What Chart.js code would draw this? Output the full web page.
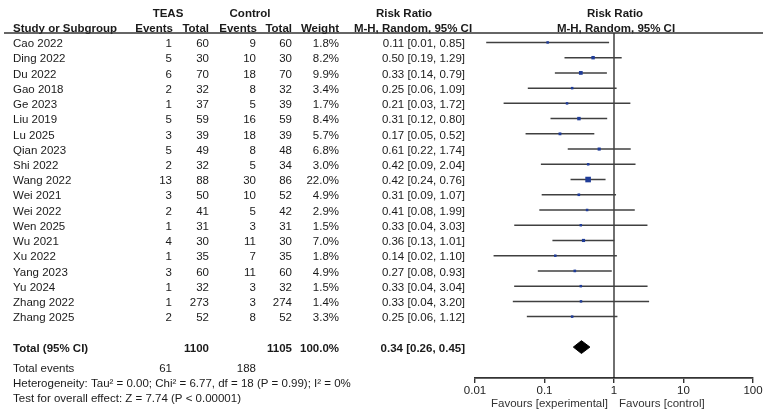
<!DOCTYPE html>
<html>
<head>
<meta charset="utf-8">
<script src="https://cdn.jsdelivr.net/npm/chart.js@4.4.1/dist/chart.umd.min.js"></script>
<style>
  html, body { margin: 0; padding: 0; background: #fff; }
  #forest { display: block; }
</style>
</head>
<body>
<canvas id="forest" width="767" height="420"></canvas>
<script>
// ---- data ----
var studies = ['Cao 2022', 'Ding 2022', 'Du 2022', 'Gao 2018', 'Ge 2023', 'Liu 2019', 'Lu 2025',
  'Qian 2023', 'Shi 2022', 'Wang 2022', 'Wei 2021', 'Wei 2022', 'Wen 2025', 'Wu 2021', 'Xu 2022',
  'Yang 2023', 'Yu 2024', 'Zhang 2022', 'Zhang 2025'];
var teasEvents = [1, 5, 6, 2, 1, 5, 3, 5, 2, 13, 3, 2, 1, 4, 1, 3, 1, 1, 2];
var teasTotal = [60, 30, 70, 32, 37, 59, 39, 49, 32, 88, 50, 41, 31, 30, 35, 60, 32, 273, 52];
var ctrlEvents = [9, 10, 18, 8, 5, 16, 18, 8, 5, 30, 10, 5, 3, 11, 7, 11, 3, 3, 8];
var ctrlTotal = [60, 30, 70, 32, 39, 59, 39, 48, 34, 86, 52, 42, 31, 30, 35, 60, 32, 274, 52];
var weights = [1.8, 8.2, 9.9, 3.4, 1.7, 8.4, 5.7, 6.8, 3.0, 22.0, 4.9, 2.9, 1.5, 7.0, 1.8, 4.9, 1.5, 1.4, 3.3];
var ratio = [0.111, 0.500, 0.333, 0.250, 0.211, 0.313, 0.167, 0.612, 0.425, 0.424, 0.312, 0.410,
  0.333, 0.364, 0.143, 0.273, 0.333, 0.335, 0.250];
var lower = [0.0145, 0.194, 0.141, 0.0575, 0.0258, 0.122, 0.0534, 0.216, 0.0887, 0.237, 0.0911, 0.0842,
  0.0367, 0.130, 0.0185, 0.0801, 0.0366, 0.0350, 0.0557];
var upper = [0.850, 1.29, 0.790, 1.09, 1.72, 0.798, 0.521, 1.74, 2.04, 0.756, 1.07, 1.99,
  3.03, 1.01, 1.10, 0.929, 3.04, 3.20, 1.12];
var ciText = ['0.11 [0.01, 0.85]', '0.50 [0.19, 1.29]', '0.33 [0.14, 0.79]', '0.25 [0.06, 1.09]',
  '0.21 [0.03, 1.72]', '0.31 [0.12, 0.80]', '0.17 [0.05, 0.52]', '0.61 [0.22, 1.74]',
  '0.42 [0.09, 2.04]', '0.42 [0.24, 0.76]', '0.31 [0.09, 1.07]', '0.41 [0.08, 1.99]',
  '0.33 [0.04, 3.03]', '0.36 [0.13, 1.01]', '0.14 [0.02, 1.10]', '0.27 [0.08, 0.93]',
  '0.33 [0.04, 3.04]', '0.33 [0.04, 3.20]', '0.25 [0.06, 1.12]'];

var pooled = [0.26, 0.34, 0.45];           // lower, estimate, upper
var pooledText = '0.34 [0.26, 0.45]';
var totalTeas = 1100, totalCtrl = 1105;
var eventsTeas = 61, eventsCtrl = 188;
var heterogeneity = 'Heterogeneity: Tau\u00b2 = 0.00; Chi\u00b2 = 6.77, df = 18 (P = 0.99); I\u00b2 = 0%';
var overallTest = 'Test for overall effect: Z = 7.74 (P < 0.00001)';

var tickValues = [0.01, 0.1, 1, 10, 100];
var tickLabels = ['0.01', '0.1', '1', '10', '100'];

// ---- layout ----
var ROW_MIN = -0.62, ROW_MAX = 22.03;   // y range in row units
var TOTAL_ROW = 20;
var FONT = "'Liberation Sans', Arial, sans-serif";
var FONT_SIZE = 11.5;
var TEXT = '#1a1a1a';
var MARK = '#1f3c98';
var LINE = '#404040';

function sideFor(w) { return Math.max(2.5, 5.6 * Math.sqrt(w / 22)); }

var datasets = [];

// CI whiskers
studies.forEach(function (s, i) {
  datasets.push({
    data: [{ x: lower[i], y: i }, { x: upper[i], y: i }],
    showLine: true, borderColor: LINE, borderWidth: 1.5,
    pointRadius: 0, order: 2
  });
});

// weighted squares
datasets.push({
  data: studies.map(function (s, i) { return { x: ratio[i], y: i }; }),
  pointStyle: 'rect',
  pointRadius: weights.map(function (w) { return sideFor(w) / Math.SQRT2; }),
  backgroundColor: MARK, borderWidth: 0, order: 0
});

// line of no effect
datasets.push({
  data: [{ x: 1, y: ROW_MIN }, { x: 1, y: ROW_MAX }],
  showLine: true, borderColor: '#111', borderWidth: 1.2, pointRadius: 0, order: 3
});

// pooled diamond
datasets.push({
  data: [
    { x: pooled[0], y: TOTAL_ROW }, { x: pooled[1], y: TOTAL_ROW - 0.42 },
    { x: pooled[2], y: TOTAL_ROW }, { x: pooled[1], y: TOTAL_ROW + 0.42 },
    { x: pooled[0], y: TOTAL_ROW }
  ],
  showLine: true, fill: 'shape', borderColor: '#000', backgroundColor: '#000',
  borderWidth: 1, pointRadius: 0, order: 1
});

/* -------------------------------------------------------
   table text drawn next to the plot
------------------------------------------------------- */
var tablePlugin = {
  id: 'forestTable',
  afterDraw: function (chart) {
    var ctx = chart.ctx;
    var ys = chart.scales.y;
    var xs = chart.scales.x;
    function rowY(r) { return ys.getPixelForValue(r) + 1.5; }
    function txt(s, x, y, align, bold, color) {
      ctx.font = (bold ? 'bold ' : '') + FONT_SIZE + 'px ' + FONT;
      ctx.textAlign = align;
      ctx.fillStyle = color || TEXT;
      ctx.fillText(s, x, y);
    }
    ctx.save();
    ctx.textBaseline = 'middle';

    // headers
    txt('TEAS', 168, 14, 'center', true);
    txt('Control', 250, 14, 'center', true);
    txt('Risk Ratio', 404, 14, 'center', true);
    txt('Risk Ratio', 615, 14, 'center', true);
    txt('Study or Subgroup', 13, 29, 'left', true);
    txt('Events', 173, 29, 'right', true);
    txt('Total', 209, 29, 'right', true);
    txt('Events', 257, 29, 'right', true);
    txt('Total', 292, 29, 'right', true);
    txt('Weight', 339, 29, 'right', true);
    txt('M-H, Random, 95% CI', 413, 29, 'center', true);
    txt('M-H, Random, 95% CI', 616, 29, 'center', true);

    // rule under the header
    ctx.strokeStyle = '#333';
    ctx.lineWidth = 1.4;
    ctx.beginPath();
    ctx.moveTo(4, chart.chartArea.top);
    ctx.lineTo(763, chart.chartArea.top);
    ctx.stroke();

    // study rows
    studies.forEach(function (s, i) {
      var y = rowY(i);
      txt(s, 13, y, 'left');
      txt(String(teasEvents[i]), 172, y, 'right');
      txt(String(teasTotal[i]), 209, y, 'right');
      txt(String(ctrlEvents[i]), 256, y, 'right');
      txt(String(ctrlTotal[i]), 292, y, 'right');
      txt(weights[i].toFixed(1) + '%', 339, y, 'right');
      txt(ciText[i], 465, y, 'right');
    });

    // totals
    var ty = rowY(TOTAL_ROW);
    txt('Total (95% CI)', 13, ty, 'left', true);
    txt(String(totalTeas), 209, ty, 'right', true);
    txt(String(totalCtrl), 292, ty, 'right', true);
    txt('100.0%', 339, ty, 'right', true);
    txt(pooledText, 465, ty, 'right', true);

    var ey = rowY(TOTAL_ROW + 1.3);
    txt('Total events', 13, ey, 'left');
    txt(String(eventsTeas), 172, ey, 'right');
    txt(String(eventsCtrl), 256, ey, 'right');
    txt(heterogeneity, 13, rowY(TOTAL_ROW + 2.3), 'left');
    txt(overallTest, 13, rowY(TOTAL_ROW + 3.3), 'left');

    // favours labels under the axis
    var x1 = xs.getPixelForValue(1);
    txt('Favours [experimental]', x1 - 6, 404, 'right', false, '#333');
    txt('Favours [control]', x1 + 5, 404, 'left', false, '#333');
    ctx.restore();
  }
};

new Chart(document.getElementById('forest'), {
  type: 'scatter',
  data: { datasets: datasets },
  plugins: [tablePlugin],
  options: {
    responsive: false,
    animation: false,
    devicePixelRatio: 1,
    layout: { padding: { left: 475, right: 14, top: 33, bottom: 0 } },
    plugins: { legend: { display: false }, tooltip: { enabled: false } },
    scales: {
      x: {
        type: 'logarithmic',
        position: 'bottom',
        min: 0.01,
        max: 100,
        afterBuildTicks: function (s) {
          s.ticks = tickValues.map(function (v) { return { value: v }; });
        },
        afterFit: function (s) { s.height = 42; },
        grid: { drawOnChartArea: false, drawTicks: true, tickLength: 5, color: '#333', lineWidth: 1.4 },
        border: { display: true, color: '#333', width: 1.8 },
        ticks: {
          autoSkip: false,
          maxRotation: 0,
          padding: 1,
          color: '#222',
          font: { family: FONT, size: FONT_SIZE },
          callback: function (v, idx) { return tickLabels[idx]; }
        }
      },
      y: {
        type: 'linear',
        min: ROW_MIN,
        max: ROW_MAX,
        reverse: true,
        display: false
      }
    }
  }
});
</script>
</body>
</html>
